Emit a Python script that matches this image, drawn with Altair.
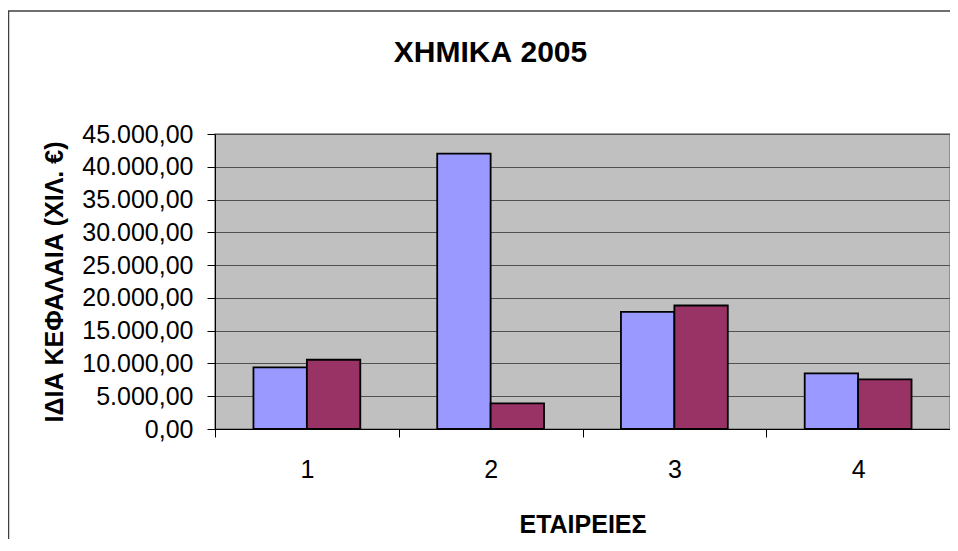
import altair as alt
import pandas as pd

# ---- data ----
companies = ["1", "2", "3", "4"]
series_names = ["Σειρά1", "Σειρά2"]
series1 = [9400, 42000, 17880, 8480]
series2 = [10560, 3910, 18840, 7570]
y_ticks = [0, 5000, 10000, 15000, 20000, 25000, 30000, 35000, 40000, 45000]
colors = ["#9999FF", "#993366"]

rows = []
for i, c in enumerate(companies):
    rows.append({"company": c, "series": series_names[0], "value": series1[i]})
    rows.append({"company": c, "series": series_names[1], "value": series2[i]})
df = pd.DataFrame(rows)

W, H = 735, 295
FONT = "Liberation Sans"

bars = alt.Chart(df).mark_bar(stroke="black", strokeWidth=1.8).encode(
    x=alt.X(
        "company:N",
        sort=companies,
        scale=alt.Scale(paddingInner=0, paddingOuter=0),
        axis=alt.Axis(
            title="ΕΤΑΙΡΕΙΕΣ",
            labelAngle=0,
            tickBand="extent",
            tickSize=8,
            tickColor="black",
            domainColor="black",
            labelPadding=20,
            labelFontSize=25,
            labelFont=FONT,
            labelColor="black",
            titleFont=FONT,
            titleFontSize=25,
            titleFontWeight="bold",
            titleColor="black",
            titleBaseline="alphabetic",
            titleY=103,
            grid=False,
        ),
    ),
    xOffset=alt.XOffset(
        "series:N",
        sort=series_names,
        scale=alt.Scale(paddingOuter=0.72, paddingInner=0),
    ),
    y=alt.Y(
        "value:Q",
        scale=alt.Scale(domain=[0, 45000], nice=False),
        axis=alt.Axis(
            values=y_ticks,
            format=",.2f",
            title="ΙΔΙΑ ΚΕΦΑΛΑΙΑ (ΧΙΛ. €)",
            tickSize=8,
            tickColor="black",
            domainColor="black",
            labelPadding=14,
            labelFontSize=25,
            labelFont=FONT,
            labelColor="black",
            titleFont=FONT,
            titleFontSize=25,
            titleFontWeight="bold",
            titleColor="black",
            titleAngle=-90,
            titleBaseline="alphabetic",
            titleAlign="center",
            titleX=-153,
            titleY=H / 2,
            grid=True,
            gridColor="#505050",
            gridWidth=1.2,
        ),
    ),
    color=alt.Color(
        "series:N",
        scale=alt.Scale(domain=series_names, range=colors),
        legend=None,
    ),
)

frame = alt.Chart(pd.DataFrame({"f": [0]})).mark_rect(
    fillOpacity=0, stroke="#404040", strokeWidth=1.5
).encode(
    x=alt.value(-206.5),
    x2=alt.value(W + 300),
    y=alt.value(-123),
    y2=alt.value(H + 300),
)

chart = (
    alt.layer(frame, bars)
    .properties(
        width=W,
        height=H,
        title=alt.TitleParams(
            "ΧΗΜΙΚΑ 2005",
            font=FONT,
            fontSize=30,
            fontWeight="bold",
            color="black",
            anchor="middle",
            baseline="alphabetic",
            offset=0,
            dx=-92,
            dy=82,
        ),
        padding={"left": 207, "top": 126, "right": 0, "bottom": 110},
        autosize=alt.AutoSizeParams(type="none"),
    )
    .configure(
        locale=alt.Locale(
            number=alt.NumberLocale(
                decimal=",", thousands=".", grouping=[3], currency=["", " €"]
            )
        )
    )
    .configure_view(fill="#C0C0C0", stroke="#808080", strokeWidth=1.5)
)

chart.save("out.html", embed_options={"renderer": "svg", "actions": False})
